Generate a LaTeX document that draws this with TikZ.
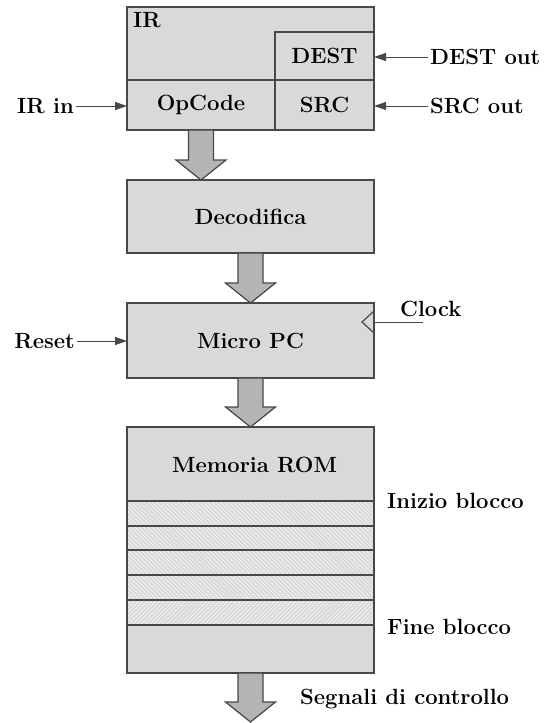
\documentclass[tikz,border=0pt]{standalone}
\usepackage{fontspec}
\usetikzlibrary{arrows.meta,calc,patterns.meta}
\definecolor{boxc}{RGB}{217,217,219}
\definecolor{arrc}{RGB}{180,180,181}
\definecolor{linec}{RGB}{72,72,72}
\newcommand\bigarr[2]{%
  \path[bigarrow] let \p1=(#1), \p2=(#2) in
    (\x1-12.5pt,\y1) -- (\x1-12.5pt,\y2+20pt) -- (\x1-25pt,\y2+20pt) -- (\x2,\y2)
    -- (\x1+25pt,\y2+20pt) -- (\x1+12.5pt,\y2+20pt) -- (\x1+12.5pt,\y1) -- cycle;}
\begin{document}
\begin{tikzpicture}[x=1pt,y=-1pt,
  font=\fontsize{22}{26}\selectfont\bfseries,
  box/.style={draw=linec,fill=boxc,line width=1.2pt,inner sep=0pt,outer sep=0pt},
  bigarrow/.style={draw=linec,fill=arrc,line width=1.2pt,line join=miter},
  sig/.style={draw=linec,line width=1pt,-{Triangle[length=12pt,width=8pt]}},
  lbl/.style={inner sep=2pt,text=black},
  rowline/.style={draw=linec,line width=1.2pt}]
\useasboundingbox (0,0) rectangle (545,723);

% IR register
\node[box,minimum width=247pt,minimum height=123pt] (ir) at (250.5,68.5) {};
\node[box,minimum width=148pt,minimum height=50pt] (opc) at (201,105) {OpCode};
\node[box,minimum width=99pt,minimum height=50pt] (src) at (324.5,105) {SRC};
\node[box,minimum width=99pt,minimum height=48pt] (dest) at (324.5,56) {DEST};
\node[lbl,anchor=north west] (irl) at (131,10.5) {IR};

% Decoder
\node[box,minimum width=247pt,minimum height=73pt] (dec) at (250.5,216.5) {Decodifica};

% Micro PC
\node[box,minimum width=247pt,minimum height=75pt] (mpc) at (250.5,340.5) {Micro PC};
\draw[linec,line width=1.2pt] (374,311) -- (362,322) -- (374,333);

% ROM
\node[box,minimum width=247pt,minimum height=246pt] (rom) at (250.5,550) {};
\node[lbl] (romt) at (254.5,465) {Memoria ROM};
\foreach \a/\b in {501/526,526/550,550/575,575/600}{
  \fill[pattern={Lines[angle=-45,distance=3pt,line width=0.5pt]},pattern color=white]
    (127.6,\a) rectangle (373.4,\b);}
\fill[pattern={Lines[angle=45,distance=3pt,line width=0.5pt]},pattern color=white]
    (127.6,600) rectangle (373.4,625);
\foreach \y in {501,526,550,575,600,625}{
  \draw[rowline] (127,\y) -- (374,\y);}
\draw[box,fill=none] (rom.north west) rectangle (rom.south east);

% big arrows
\coordinate (ctl) at (250.5,722);
\bigarr{opc.south}{dec.north -| opc.south}
\bigarr{dec.south}{mpc.north}
\bigarr{mpc.south}{rom.north}
\bigarr{rom.south}{ctl}

% side signals
\node[lbl,anchor=east] (irin) at (76,106) {IR in};
\draw[sig] (irin.east) -- (irin.east -| ir.west);
\node[lbl,anchor=west] (destout) at (428,57) {DEST out};
\draw[sig] (destout.west) -- (destout.west -| dest.east);
\node[lbl,anchor=west] (srcout) at (428,106) {SRC out};
\draw[sig] (srcout.west) -- (srcout.west -| src.east);
\node[lbl,anchor=east] (reset) at (77,341) {Reset};
\draw[sig] (reset.east) -- (reset.east -| mpc.west);
\coordinate (clkend) at (423,322);
\draw[linec,line width=1pt] (clkend -| mpc.east) -- (clkend);
\node[lbl,anchor=south west] (clk) at (398,319) {Clock};
\node[lbl,anchor=west] (ini) at (385,501) {Inizio blocco};
\node[lbl,anchor=west] (fine) at (385,627) {Fine blocco};
\node[lbl,anchor=west] (segn) at (298,699) {Segnali di controllo};
\end{tikzpicture}
\end{document}
